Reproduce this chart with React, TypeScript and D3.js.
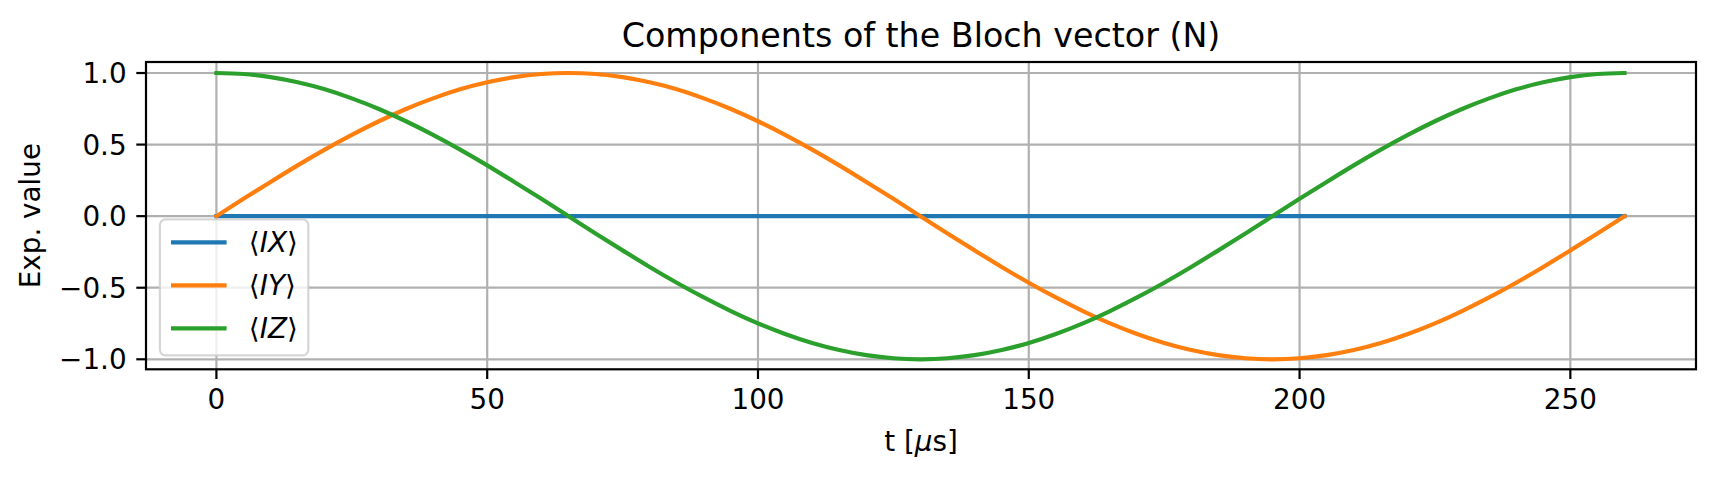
import * as d3 from "d3";

// values (t in µs)
const tValues = [
  0, 5, 10, 15, 20, 25, 30, 35, 40, 45, 50, 55, 60, 65, 70, 75, 80, 85, 90, 95, 100, 105, 110, 115, 120, 125, 130,
  135, 140, 145, 150, 155, 160, 165, 170, 175, 180, 185, 190, 195, 200, 205, 210, 215, 220, 225, 230, 235, 240, 245,
  250, 255, 260,
];
const ixValues = [
  0, 0, 0, 0, 0, 0, 0, 0, 0, 0, 0, 0, 0, 0, 0, 0, 0, 0, 0, 0, 0, 0, 0, 0, 0, 0, 0, 0, 0, 0, 0, 0, 0, 0, 0, 0, 0, 0,
  0, 0, 0, 0, 0, 0, 0, 0, 0, 0, 0, 0, 0, 0, 0,
];
const iyValues = [
  0, 0.121, 0.239, 0.355, 0.465, 0.568, 0.663, 0.749, 0.823, 0.886, 0.935, 0.971, 0.993, 1.0,
  0.993, 0.971, 0.935, 0.886, 0.823, 0.749, 0.663, 0.568, 0.465, 0.355, 0.239, 0.121, 0,
  -0.121, -0.239, -0.355, -0.465, -0.568, -0.663, -0.749, -0.823, -0.886, -0.935, -0.971, -0.993, -1.0,
  -0.993, -0.971, -0.935, -0.886, -0.823, -0.749, -0.663, -0.568, -0.465, -0.355, -0.239, -0.121, 0,
];
const izValues = [
  1.0, 0.993, 0.971, 0.935, 0.886, 0.823, 0.749, 0.663, 0.568, 0.465, 0.355, 0.239, 0.121, 0,
  -0.121, -0.239, -0.355, -0.465, -0.568, -0.663, -0.749, -0.823, -0.886, -0.935, -0.971, -0.993, -1.0,
  -0.993, -0.971, -0.935, -0.886, -0.823, -0.749, -0.663, -0.568, -0.465, -0.355, -0.239, -0.121, 0,
  0.121, 0.239, 0.355, 0.465, 0.568, 0.663, 0.749, 0.823, 0.886, 0.935, 0.971, 0.993, 1.0,
];

const xTicks = [0, 50, 100, 150, 200, 250];
const yTicks = [-1, -0.5, 0, 0.5, 1];

const series = [
  { name: "IX", values: ixValues, color: "#1f77b4" },
  { name: "IY", values: iyValues, color: "#ff7f0e" },
  { name: "IZ", values: izValues, color: "#2ca02c" },
];

const W = 1716;
const H = 481;
const M = { top: 62, right: 20, bottom: 111.7, left: 146 };
const FONT = "'DejaVu Sans', sans-serif";
const FS = 27.8; // 10pt @ 200dpi
const TICK = 9.7;

export default function App() {
  const innerW = W - M.left - M.right;
  const innerH = H - M.top - M.bottom;

  const x = d3.scaleLinear().domain([-13.0, 273.2]).range([0, innerW]);
  const y = d3.scaleLinear().domain([-1.07, 1.077]).range([innerH, 0]);

  const line = d3
    .line<number>()
    .x((_, i) => x(tValues[i]))
    .y((d) => y(d))
    .curve(d3.curveNatural);

  const fmtY = (v: number) => (v < 0 ? "\u2212" : "") + Math.abs(v).toFixed(1);

  // legend (lower left)
  const pad = 0.5 * FS;
  const legW = 148.4;
  const legH = 136;
  const legX = pad;
  const legY = innerH - pad - legH;
  const rowGap = 43;
  const firstRow = 23;

  return (
    <svg
      width={W}
      height={H}
      style={{ position: "absolute", left: 0, top: 0, background: "#fff" }}
      fontFamily={FONT}
    >
      <text x={M.left + innerW / 2} y={46.5} textAnchor="middle" fontSize={33.3} fill="#000">
        Components of the Bloch vector (N)
      </text>

      <g transform={`translate(${M.left},${M.top})`}>
        {/* grid */}
        {xTicks.map((t) => (
          <line key={"gx" + t} x1={x(t)} x2={x(t)} y1={0} y2={innerH} stroke="#b0b0b0" strokeWidth={2.2} />
        ))}
        {yTicks.map((t) => (
          <line key={"gy" + t} x1={0} x2={innerW} y1={y(t)} y2={y(t)} stroke="#b0b0b0" strokeWidth={2.2} />
        ))}

        {/* series */}
        {series.map((s) => (
          <path
            key={s.name}
            d={line(s.values) ?? ""}
            fill="none"
            stroke={s.color}
            strokeWidth={4.2}
            strokeLinecap="square"
          />
        ))}

        {/* spines */}
        <rect x={0} y={0} width={innerW} height={innerH} fill="none" stroke="#000" strokeWidth={2.2} />

        {/* x ticks */}
        {xTicks.map((t) => (
          <g key={"xt" + t} transform={`translate(${x(t)},${innerH})`}>
            <line y1={0} y2={TICK} stroke="#000" strokeWidth={2.2} />
            <text y={TICK + 9.7 + 20.3} textAnchor="middle" fontSize={FS} fill="#000">
              {t}
            </text>
          </g>
        ))}

        {/* y ticks */}
        {yTicks.map((t) => (
          <g key={"yt" + t} transform={`translate(0,${y(t)})`}>
            <line x1={-TICK} x2={0} stroke="#000" strokeWidth={2.2} />
            <text x={-TICK - 9.7} y={10.1} textAnchor="end" fontSize={FS} fill="#000">
              {fmtY(t)}
            </text>
          </g>
        ))}

        {/* legend */}
        <g transform={`translate(${legX},${legY})`}>
          <rect
            x={0}
            y={0}
            width={legW}
            height={legH}
            rx={5.6}
            fill="#fff"
            fillOpacity={0.8}
            stroke="#cccccc"
            strokeOpacity={0.8}
            strokeWidth={2.2}
          />
          {series.map((s, i) => {
            const ry = firstRow + i * rowGap;
            return (
              <g key={"lg" + s.name}>
                <line x1={11.1} x2={11.1 + 2 * FS} y1={ry} y2={ry} stroke={s.color} strokeWidth={4.2} />
                <text x={11.1 + 2 * FS + 0.8 * FS} y={ry + 9.6} fontSize={FS} fill="#000">
                  <tspan>{"\u27E8"}</tspan>
                  <tspan fontStyle="italic">{s.name}</tspan>
                  <tspan>{"\u27E9"}</tspan>
                </text>
              </g>
            );
          })}
        </g>
      </g>

      {/* axis labels */}
      <text x={M.left + innerW / 2} y={451} textAnchor="middle" fontSize={FS} fill="#000">
        t [<tspan fontStyle="italic">{"\u03BC"}</tspan>s]
      </text>
      <text
        transform={`translate(40,${M.top + innerH / 2}) rotate(-90)`}
        textAnchor="middle"
        fontSize={FS}
        fill="#000"
      >
        Exp. value
      </text>
    </svg>
  );
}
